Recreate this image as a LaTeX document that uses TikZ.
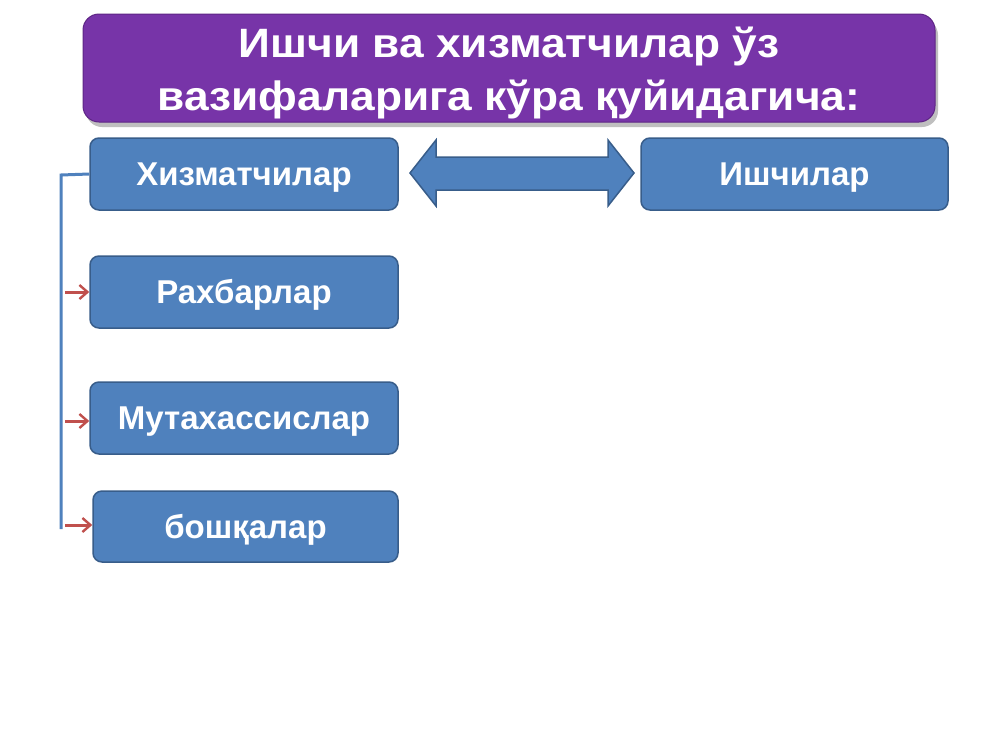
\documentclass[tikz,border=0pt]{standalone}
\usepackage{fontspec}
\setmainfont{Liberation Sans}
\usetikzlibrary{arrows.meta}
\definecolor{boxblue}{HTML}{4F81BD}
\definecolor{boxedge}{HTML}{385D8A}
\definecolor{titlepurple}{HTML}{7734A8}
\definecolor{titleedge}{HTML}{5E2585}
\definecolor{arrred}{HTML}{C0504D}
\tikzset{
  bluebox/.style={draw=boxedge, line width=1.5pt, fill=boxblue, rounded corners=9pt,
    text=white, font=\bfseries\fontsize{33}{36}\selectfont, inner sep=0pt,
    text height=23.6pt, text depth=0pt},
  titleline/.style={text=white, font=\bfseries\fontsize{41}{50}\selectfont, anchor=base, xscale=1.08, inner sep=0pt},
  conn/.style={draw=boxblue, line width=3pt},
  redarr/.style={draw=arrred, line width=3pt, -{Straight Barb[length=8pt,width=14pt,line width=2.4pt]}},
}
\begin{document}
\begin{tikzpicture}[x=1pt,y=-1pt]
\useasboundingbox (0,0) rectangle (1000,750);
\fill[white] (0,0) rectangle (1000,750);
% title
\fill[black!25, rounded corners=16pt] (86,19) rectangle (938,127);
\node[draw=titleedge, line width=1pt, fill=titlepurple, rounded corners=16pt,
  minimum width=852pt, minimum height=108pt, inner sep=0pt] (title) at (509,68) {};
\node[titleline] (tline1) at (509,57) {Ишчи ва хизматчилар ўз};
\node[titleline] (tline2) at (509,110) {вазифаларига кўра қуйидагича:};
% boxes
\node[bluebox, minimum width=308pt, minimum height=72pt] (hiz) at (244,174) {Хизматчилар};
\node[bluebox, minimum width=307pt, minimum height=72pt] (ish) at (794.5,174) {Ишчилар};
\node[bluebox, minimum width=308pt, minimum height=72pt] (rah) at (244,292) {Рахбарлар};
\node[bluebox, minimum width=308pt, minimum height=72pt] (mut) at (244,418) {Мутахассислар};
\node[bluebox, minimum width=305pt, minimum height=71pt] (bos) at (245.5,526.5) {бошқалар};
% double arrow
\draw[draw=boxedge, line width=1.5pt, fill=boxblue, line join=miter]
  (410,173) -- (436,140) -- (436,157) -- (608,157) -- (608,140) -- (634,173)
  -- (608,206) -- (608,190) -- (436,190) -- (436,206) -- cycle;
% connectors
\coordinate (trunktop) at (61,175);
\coordinate (trunkbot) at (61,529);
\draw[conn] (hiz.west) -- (trunktop) -- (trunkbot);
\coordinate (r1) at (65,292);
\coordinate (r2) at (65,421);
\coordinate (r3) at (65,525);
\draw[redarr] (r1) -- (rah.west |- r1);
\draw[redarr] (r2) -- (mut.west |- r2);
\draw[redarr] (r3) -- (bos.west |- r3);
\end{tikzpicture}
\end{document}
